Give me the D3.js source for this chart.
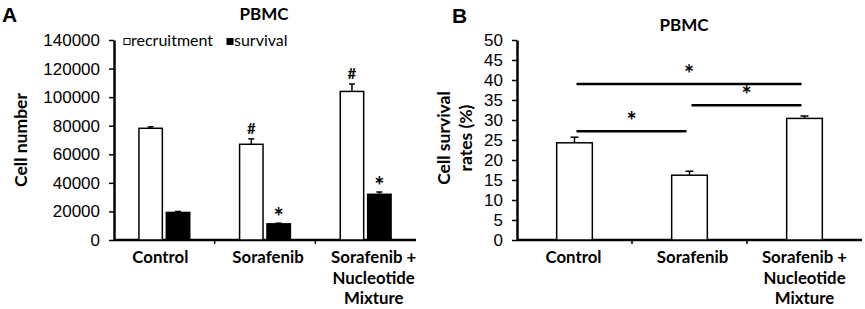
<!DOCTYPE html>
<html>
<head>
<meta charset="utf-8">
<script src="https://cdn.jsdelivr.net/npm/d3@7"></script>
<style>
  body { margin: 0; background: #fff; }
  svg { display: block; }
</style>
</head>
<body>
<svg id="chart" width="865" height="309"></svg>
<script>
// ---------- data ----------
const categories = ["Control", "Sorafenib", "Sorafenib + Nucleotide Mixture"];
const categoryLines = [["Control"], ["Sorafenib"], ["Sorafenib +", "Nucleotide", "Mixture"]];
const seriesNames = ["recruitment", "survival"];
const recruitment = [78200, 67000, 104000];
const recruitmentErr = [1000, 3800, 5200];
const survival = [19300, 11300, 32000];
const survivalErr = [700, 500, 1600];
const recruitmentMarks = ["", "#", "#"];
const survivalMarks = ["", "*", "*"];
const ticksA = [0, 20000, 40000, 60000, 80000, 100000, 120000, 140000];

const survivalRate = [24.3, 16.2, 30.4];
const survivalRateErr = [1.4, 1.0, 0.6];
const ticksB = [0, 5, 10, 15, 20, 25, 30, 35, 40, 45, 50];
// significance brackets: [from category index, to category index, level]
const sigFrom = [0, 1, 0];
const sigTo = [2, 2, 1];
const sigLevel = [39, 33.7, 27.2];
const sigLabel = ["*", "*", "*"];

// ---------- setup ----------
const svg = d3.select("#chart");
const tickFont = "'Liberation Sans', Arial, sans-serif";
const boldFont = "Lato, 'Open Sans', sans-serif";
const plotTop = 40, plotBottom = 240;

function styleAxis(g) {
  g.select(".domain").attr("stroke", "#000").attr("stroke-width", 2.5);
  g.selectAll(".tick line").attr("stroke", "#000").attr("stroke-width", 1.5);
  g.selectAll(".tick text").attr("font-family", tickFont).attr("font-size", 17).attr("fill", "#000");
}

function drawXAxis(x, y0) {
  const [a, b] = x.range();
  svg.append("line").attr("x1", a).attr("x2", b).attr("y1", y0).attr("y2", y0)
    .attr("stroke", "#000").attr("stroke-width", 2.5);
  const bounds = categories.map(c => x(c)).concat([b]);
  svg.append("g").selectAll("line").data(bounds.slice(1, -1)).join("line")
    .attr("x1", d => d).attr("x2", d => d).attr("y1", y0).attr("y2", y0 + 4)
    .attr("stroke", "#000").attr("stroke-width", 1.5);
}

function drawCatLabels(x, y0, dxs) {
  categories.forEach((c, i) => {
    const t = svg.append("text")
      .attr("text-anchor", "middle")
      .attr("font-family", boldFont).attr("font-weight", 700).attr("font-size", 16.8)
      .attr("fill", "#000");
    categoryLines[i].forEach((ln, j) => {
      t.append("tspan").attr("x", x(c) + x.bandwidth() / 2 + dxs[i]).attr("y", y0 + 23 + j * 20.5).text(ln);
    });
  });
}

// ---------- Panel A ----------
const xA = d3.scaleBand().domain(categories).range([114, 416]);
const x1 = d3.scaleBand().domain(seriesNames).range([0, xA.bandwidth()]).paddingInner(0.145).paddingOuter(0.91);
const yA = d3.scaleLinear().domain([0, 140000]).range([plotBottom, plotTop]);

const gyA = svg.append("g").attr("transform", "translate(114,0)")
  .call(d3.axisLeft(yA).tickValues(ticksA).tickSize(5).tickPadding(9).tickSizeOuter(0).tickFormat(d3.format("d")));
styleAxis(gyA);
drawXAxis(xA, plotBottom);

const dataA = [
  { name: "recruitment", vals: recruitment, errs: recruitmentErr, marks: recruitmentMarks, fill: "#fff" },
  { name: "survival", vals: survival, errs: survivalErr, marks: survivalMarks, fill: "#000" }
];
dataA.forEach(s => {
  categories.forEach((c, i) => {
    const bx = xA(c) + x1(s.name);
    const bw = x1.bandwidth();
    const cx = bx + bw / 2;
    const errTop = yA(s.vals[i] + s.errs[i]);
    svg.append("line").attr("x1", cx).attr("x2", cx).attr("y1", yA(s.vals[i])).attr("y2", errTop)
      .attr("stroke", "#000").attr("stroke-width", 1.5);
    svg.append("line").attr("x1", cx - 3).attr("x2", cx + 3).attr("y1", errTop).attr("y2", errTop)
      .attr("stroke", "#000").attr("stroke-width", 1.5);
    svg.append("rect").attr("x", bx).attr("y", yA(s.vals[i]))
      .attr("width", bw).attr("height", plotBottom - yA(s.vals[i]))
      .attr("fill", s.fill).attr("stroke", "#000").attr("stroke-width", 1.5);
    if (s.marks[i]) {
      svg.append("text").attr("x", cx).attr("y", errTop - (s.marks[i] === "*" ? -3 : 5))
        .attr("text-anchor", "middle")
        .attr("font-family", boldFont).attr("font-weight", 700)
        .attr("font-size", s.marks[i] === "*" ? 24 : 15).attr("fill", "#000")
        .text(s.marks[i]);
    }
  });
});

drawCatLabels(xA, plotBottom, [-4, 3, 8]);

// legend
const legend = svg.append("g");
[{ name: "recruitment", fill: "#fff", x: 124 }, { name: "survival", fill: "#000", x: 227 }].forEach(l => {
  legend.append("rect").attr("x", l.x).attr("y", 38.5).attr("width", 6).attr("height", 6)
    .attr("fill", l.fill).attr("stroke", "#000").attr("stroke-width", 1);
  legend.append("text").attr("x", l.x + 7).attr("y", 45.5)
    .attr("font-family", boldFont).attr("font-size", 16).attr("fill", "#000").text(l.name);
});

svg.append("text").attr("x", 264).attr("y", 20).attr("text-anchor", "middle")
  .attr("font-family", boldFont).attr("font-weight", 700).attr("font-size", 17).text("PBMC");
svg.append("text").attr("x", 2).attr("y", 22)
  .attr("font-family", tickFont).attr("font-weight", 700).attr("font-size", 21).text("A");
svg.append("text").attr("transform", "translate(27,140) rotate(-90)").attr("text-anchor", "middle")
  .attr("font-family", boldFont).attr("font-weight", 700).attr("font-size", 17.5).text("Cell number");

// ---------- Panel B ----------
const xB = d3.scaleBand().domain(categories).range([517, 862]);
const yB = d3.scaleLinear().domain([0, 50]).range([plotBottom, plotTop]);
const gyB = svg.append("g").attr("transform", "translate(517,0)")
  .call(d3.axisLeft(yB).tickValues(ticksB).tickSize(5).tickPadding(9).tickSizeOuter(0));
styleAxis(gyB);
drawXAxis(xB, plotBottom);

const barWB = xB.bandwidth() * 0.31;
const cxB = c => xB(c) + xB.bandwidth() / 2;
categories.forEach((c, i) => {
  const cx = cxB(c);
  const errTop = yB(survivalRate[i] + survivalRateErr[i]);
  svg.append("line").attr("x1", cx).attr("x2", cx).attr("y1", yB(survivalRate[i])).attr("y2", errTop)
    .attr("stroke", "#000").attr("stroke-width", 1.5);
  svg.append("line").attr("x1", cx - 4).attr("x2", cx + 4).attr("y1", errTop).attr("y2", errTop)
    .attr("stroke", "#000").attr("stroke-width", 1.5);
  svg.append("rect").attr("x", cx - barWB / 2).attr("y", yB(survivalRate[i]))
    .attr("width", barWB).attr("height", plotBottom - yB(survivalRate[i]))
    .attr("fill", "#fff").attr("stroke", "#000").attr("stroke-width", 1.5);
});

sigLevel.forEach((lv, k) => {
  const xa = cxB(categories[sigFrom[k]]) + 2, xb = cxB(categories[sigTo[k]]) - 3;
  svg.append("line").attr("x1", xa).attr("x2", xb).attr("y1", yB(lv)).attr("y2", yB(lv))
    .attr("stroke", "#000").attr("stroke-width", 2.5);
  svg.append("text").attr("x", (xa + xb) / 2).attr("y", yB(lv) - 1)
    .attr("text-anchor", "middle").attr("font-family", boldFont).attr("font-weight", 700)
    .attr("font-size", 24).text(sigLabel[k]);
});

drawCatLabels(xB, plotBottom, [-1, 3, 0]);

svg.append("text").attr("x", 684).attr("y", 31).attr("text-anchor", "middle")
  .attr("font-family", boldFont).attr("font-weight", 700).attr("font-size", 17).text("PBMC");
svg.append("text").attr("x", 452).attr("y", 23)
  .attr("font-family", tickFont).attr("font-weight", 700).attr("font-size", 21).text("B");
const tB = svg.append("text").attr("transform", "translate(450,138) rotate(-90)").attr("text-anchor", "middle")
  .attr("font-family", boldFont).attr("font-weight", 700).attr("font-size", 17.5);
tB.append("tspan").attr("x", 0).attr("y", 0).text("Cell survival");
tB.append("tspan").attr("x", 0).attr("y", 22).text("rates (%)");
</script>
</body>
</html>
